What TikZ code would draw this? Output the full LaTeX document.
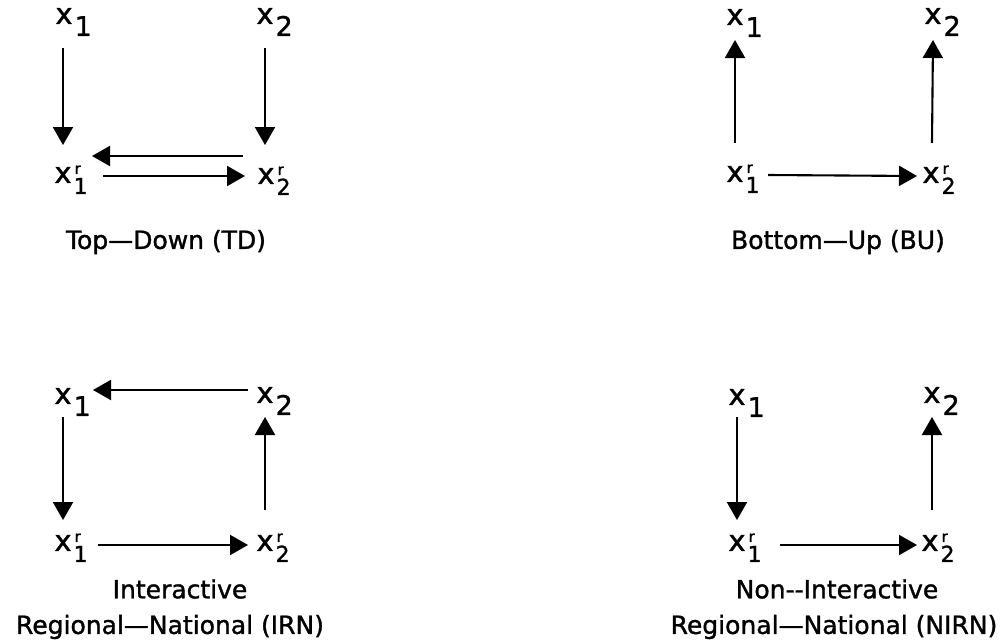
\documentclass[tikz,border=0pt]{standalone}
\usepackage{fontspec}
\setmainfont{DejaVu Sans}[FakeBold=1.3]
\usetikzlibrary{arrows.meta,calc}
\newcommand{\xa}[1]{x\rlap{\smash{\kern2pt\raisebox{-12pt}{\fontsize{27}{27}\selectfont #1}}}}
\newcommand{\xb}[1]{x\rlap{\smash{\kern2pt\raisebox{-11pt}{\fontsize{22}{22}\selectfont #1}}}\rlap{\smash{\kern3pt\raisebox{9pt}{\fontsize{15}{15}\selectfont r}}}}
\tikzset{
  var/.style={inner sep=0pt, font=\fontsize{29}{29}\selectfont},
  lab/.style={inner sep=0pt, font=\fontsize{25}{30}\selectfont, align=center},
  arr/.style={line width=2.1pt, -{Triangle[width=20pt,length=18pt]}}
}
\begin{document}
\begin{tikzpicture}[x=1pt,y=-1pt]
\useasboundingbox (0,0) rectangle (1007,643);
% Top-Down
\node[var] (a1) at (64,16) {\xa{1}};
\node[var] (a2) at (265,16) {\xa{2}};
\node[var] (a3) at (63,175) {\xb{1}};
\node[var] (a4) at (266,176) {\xb{2}};
\draw[arr] ($(a1)+(-1,32)$) -- ($(a3)+(0,-30)$);
\draw[arr] ($(a2)+(0,32)$) -- ($(a4)+(-1,-31)$);
\draw[arr] ($(a4)+(-23,-20)$) -- ($(a3)+(29,-19)$);
\draw[arr] ($(a3)+(40,1)$) -- ($(a4)+(-21,0)$);
\node[lab] (ta) at (166,242) {Top—Down (TD)};
% Bottom-Up
\node[var] (b1) at (735,17) {\xa{1}};
\node[var] (b2) at (933,16) {\xa{2}};
\node[var] (b3) at (735,174) {\xb{1}};
\node[var] (b4) at (931,175) {\xb{2}};
\draw[arr] ($(b3)+(0,-31)$) -- ($(b1)+(0,23)$);
\draw[arr] ($(b4)+(1,-32)$) -- ($(b2)+(0,24)$);
\draw[arr] ($(b3)+(33,1)$) -- ($(b4)+(-14,1)$);
\node[lab] (tb) at (838,242) {Bottom—Up (BU)};
% Interactive
\node[var] (c1) at (63,396) {\xa{1}};
\node[var] (c2) at (265,395) {\xa{2}};
\node[var] (c3) at (63,543) {\xb{1}};
\node[var] (c4) at (265,543) {\xb{2}};
\draw[arr] ($(c2)+(-17,-5)$) -- ($(c1)+(30,-6)$);
\draw[arr] ($(c1)+(0,21)$) -- ($(c3)+(0,-23)$);
\draw[arr] ($(c4)+(0,-33)$) -- ($(c2)+(0,22)$);
\draw[arr] ($(c3)+(35,2)$) -- ($(c4)+(-17,2)$);
\node[lab] (tc1) at (180,589) {Interactive};
\node[lab] (tc2) at (170,627) {Regional—National (IRN)};
% Non-Interactive
\node[var] (d1) at (737,397) {\xa{1}};
\node[var] (d2) at (932,395) {\xa{2}};
\node[var] (d3) at (737,543) {\xb{1}};
\node[var] (d4) at (930,543) {\xb{2}};
\draw[arr] ($(d1)+(0,20)$) -- ($(d3)+(0,-23)$);
\draw[arr] ($(d4)+(2,-33)$) -- ($(d2)+(0,22)$);
\draw[arr] ($(d3)+(43,2)$) -- ($(d4)+(-13,2)$);
\node[lab] (td1) at (837,589) {Non-{}-Interactive};
\node[lab] (td2) at (834,627) {Regional—National (NIRN)};
\end{tikzpicture}
\end{document}
